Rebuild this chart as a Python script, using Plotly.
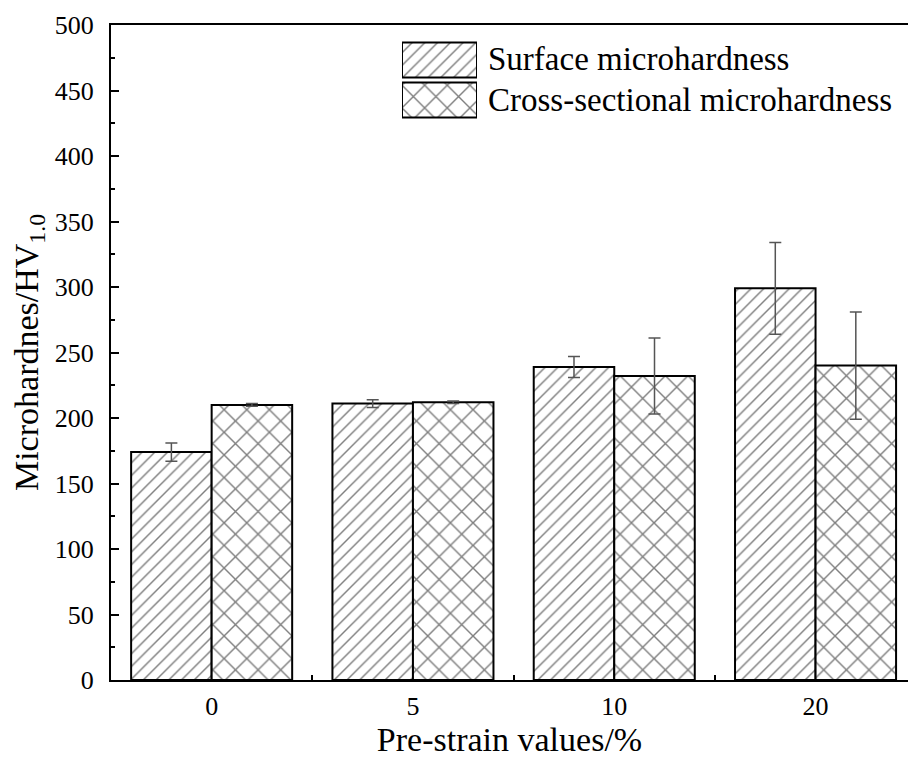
import plotly.graph_objects as go

categories = ["0", "5", "10", "20"]
surface = [174, 211, 239, 299]
surface_err = [7, 3, 8, 35]
cross = [210, 212, 232, 240]
cross_err = [1, 1, 29, 41]
series_names = ["Surface microhardness", "Cross-sectional microhardness"]

FONT = "Liberation Serif, Times New Roman, serif"
W, H = 908, 759
L, R, T, B = 111, 0, 25, 79
pw, ph = W - L - R, H - T - B

HATCH1 = dict(shape="/", fgcolor="black", bgcolor="white", size=9, solidity=0.16)
HATCH2 = dict(shape="x", fgcolor="black", bgcolor="white", size=16, solidity=0.17)

fig = go.Figure()
fig.add_trace(go.Bar(
    x=categories, y=surface, name=series_names[0], showlegend=False,
    marker=dict(color="white", line=dict(color="black", width=2), pattern=HATCH1),
    error_y=dict(type="data", array=surface_err, color="#555555", thickness=1.5, width=6),
))
fig.add_trace(go.Bar(
    x=categories, y=cross, name=series_names[1], showlegend=False,
    marker=dict(color="white", line=dict(color="black", width=2), pattern=HATCH2),
    error_y=dict(type="data", array=cross_err, color="#555555", thickness=1.5, width=6),
))

def px_x(x):
    return (x - L) / pw

def px_y(y):
    return (H - B - y) / ph

# custom legend swatches
fig.add_trace(go.Bar(
    x=[1], y=[1], orientation="h", xaxis="x2", yaxis="y2", width=0.88, showlegend=False,
    hoverinfo="skip",
    marker=dict(color="white", line=dict(color="black", width=2), pattern=HATCH1),
))
fig.add_trace(go.Bar(
    x=[1], y=[0], orientation="h", xaxis="x2", yaxis="y2", width=0.88, showlegend=False,
    hoverinfo="skip",
    marker=dict(color="white", line=dict(color="black", width=2), pattern=HATCH2),
))

fig.update_layout(
    width=W, height=H,
    margin=dict(l=L, r=R, t=T, b=B),
    paper_bgcolor="white", plot_bgcolor="white",
    font=dict(family=FONT, color="black", size=26),
    barmode="group", bargap=0.2, bargroupgap=0,
    xaxis=dict(
        type="category", range=[-0.5, -0.5 + pw / 201.3],
        tickson="boundaries", ticks="inside", ticklen=5, tickwidth=2, tickcolor="black",
        showline=True, linecolor="black", linewidth=2, mirror=True,
        showgrid=False, zeroline=False, ticklabelstandoff=2,
        tickfont=dict(size=26, family=FONT),
        title=dict(text="Pre-strain values/%", font=dict(size=34, family=FONT), standoff=4),
        automargin=False,
    ),
    yaxis=dict(
        range=[0, 500], dtick=50, ticks="inside", ticklen=8, tickwidth=2, tickcolor="black",
        minor=dict(dtick=25, ticks="inside", ticklen=4, tickwidth=2, tickcolor="black"),
        showline=True, linecolor="black", linewidth=2,
        showgrid=False, zeroline=False, ticklabelstandoff=10,
        tickfont=dict(size=26, family=FONT),
        title=dict(text="Microhardnes/HV<sub>1.0</sub>", font=dict(size=34, family=FONT), standoff=6),
        automargin=False,
    ),
    xaxis2=dict(domain=[px_x(402), px_x(477)], range=[0, 1], visible=False, anchor="y2"),
    yaxis2=dict(domain=[px_y(120), px_y(40)], range=[-0.5, 1.5], visible=False, anchor="x2"),
    annotations=[
        dict(text=series_names[0], x=px_x(486), y=px_y(59), xref="paper", yref="paper",
             xanchor="left", yanchor="middle", showarrow=False, font=dict(size=33, family=FONT)),
        dict(text=series_names[1], x=px_x(486), y=px_y(100), xref="paper", yref="paper",
             xanchor="left", yanchor="middle", showarrow=False, font=dict(size=33, family=FONT)),
    ],
)

fig.write_html("out.html")
